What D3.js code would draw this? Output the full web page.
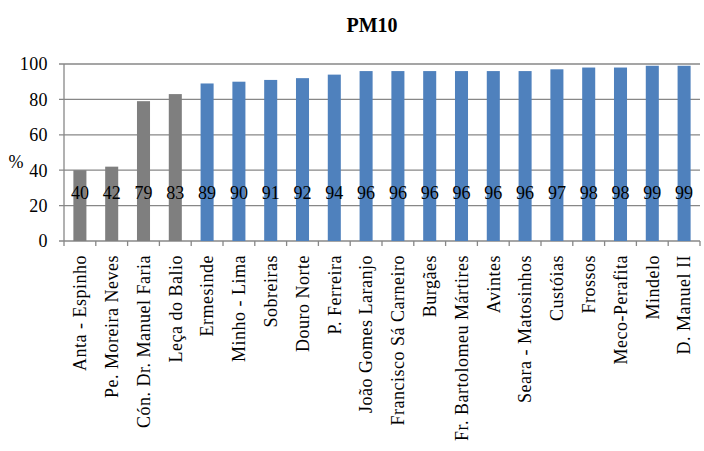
<!DOCTYPE html>
<html>
<head>
<meta charset="utf-8">
<script src="https://cdn.jsdelivr.net/npm/d3@7"></script>
<style>
  body { margin: 0; background: #fff; }
  text { font-family: "Palatino Linotype", "Book Antiqua", "Liberation Serif", "DejaVu Serif", serif; fill: #000; }
</style>
</head>
<body>
<div id="chart"></div>
<script>
const stations = ["Anta - Espinho", "Pe. Moreira Neves", "Cón. Dr. Manuel Faria", "Leça do Balio",
  "Ermesinde", "Minho - Lima", "Sobreiras", "Douro Norte", "P. Ferreira", "João Gomes Laranjo",
  "Francisco Sá Carneiro", "Burgães", "Fr. Bartolomeu Mártires", "Avintes", "Seara - Matosinhos",
  "Custóias", "Frossos", "Meco-Perafita", "Mindelo", "D. Manuel II"];
const pm10 = [40, 42, 79, 83, 89, 90, 91, 92, 94, 96, 96, 96, 96, 96, 96, 97, 98, 98, 99, 99];
const shown = [40, 42, 79, 83, 89, 90, 91, 92, 94, 96, 96, 96, 96, 96, 96, 97, 98, 98, 99, 99];
const lowGroup = ["Anta - Espinho", "Pe. Moreira Neves", "Cón. Dr. Manuel Faria", "Leça do Balio"];
const yTicks = [0, 20, 40, 60, 80, 100];

const W = 704, H = 451;
const m = {top: 64, right: 4, bottom: 210, left: 64};

let svg = d3.select('#chart').append('svg')
    .attr('width', W).attr('height', H);

let x = d3.scaleBand().domain(stations).range([m.left, W - m.right]).paddingInner(0.59).paddingOuter(0.295);
let y = d3.scaleLinear().domain([0, 100]).range([H - m.bottom, m.top]);

// gridlines
svg.append('g').selectAll('line')
    .data(yTicks)
    .join('line')
    .attr('x1', m.left - 5).attr('x2', W - m.right)
    .attr('y1', d => y(d)).attr('y2', d => y(d))
    .attr('stroke', '#878787').attr('stroke-width', 1.3);

// y axis line
svg.append('line')
    .attr('x1', m.left).attr('x2', m.left)
    .attr('y1', y(100)).attr('y2', y(0))
    .attr('stroke', '#878787').attr('stroke-width', 1.3);

// y tick labels
svg.append('g').selectAll('text')
    .data(yTicks)
    .join('text')
    .attr('x', m.left - 16).attr('y', d => y(d))
    .attr('dy', '0.35em')
    .attr('text-anchor', 'end')
    .attr('font-size', 18)
    .attr('letter-spacing', 0.4)
    .text(d => d);

svg.append('text')
    .attr('x', 16).attr('y', 162).attr('dy', '0.35em')
    .attr('text-anchor', 'middle').attr('font-size', 18)
    .text('%');

// x tick marks between categories
let step = x.step();
let edges = d3.range(stations.length + 1).map(i => m.left + i * step);
svg.append('g').selectAll('line')
    .data(edges)
    .join('line')
    .attr('x1', d => d).attr('x2', d => d)
    .attr('y1', y(0)).attr('y2', y(0) + 5)
    .attr('stroke', '#878787').attr('stroke-width', 1.3);

// bars
svg.append('g').selectAll('rect')
    .data(stations)
    .join('rect')
    .attr('x', d => x(d))
    .attr('width', x.bandwidth())
    .attr('y', (d, i) => y(pm10[i]))
    .attr('height', (d, i) => y(0) - y(pm10[i]))
    .attr('fill', d => lowGroup.includes(d) ? '#7f7f7f' : '#4f81bd');

// value labels
svg.append('g').selectAll('text')
    .data(stations)
    .join('text')
    .attr('x', d => x(d) + x.bandwidth() / 2)
    .attr('y', y(24))
    .attr('text-anchor', 'middle')
    .attr('font-size', 18)
    .text((d, i) => shown[i]);

// category labels
svg.append('g').selectAll('text')
    .data(stations)
    .join('text')
    .attr('transform', d => 'translate(' + (x(d) + x.bandwidth() / 2) + ',' + (y(0) + 14) + ') rotate(-90)')
    .attr('dy', '0.35em')
    .attr('text-anchor', 'end')
    .attr('font-size', 18)
    .attr('letter-spacing', 0.5)
    .text(d => d);

// title
svg.append('text')
    .attr('x', 372).attr('y', 32)
    .attr('text-anchor', 'middle')
    .attr('font-size', 20)
    .attr('font-weight', 'bold')
    .text('PM10');
</script>
</body>
</html>
